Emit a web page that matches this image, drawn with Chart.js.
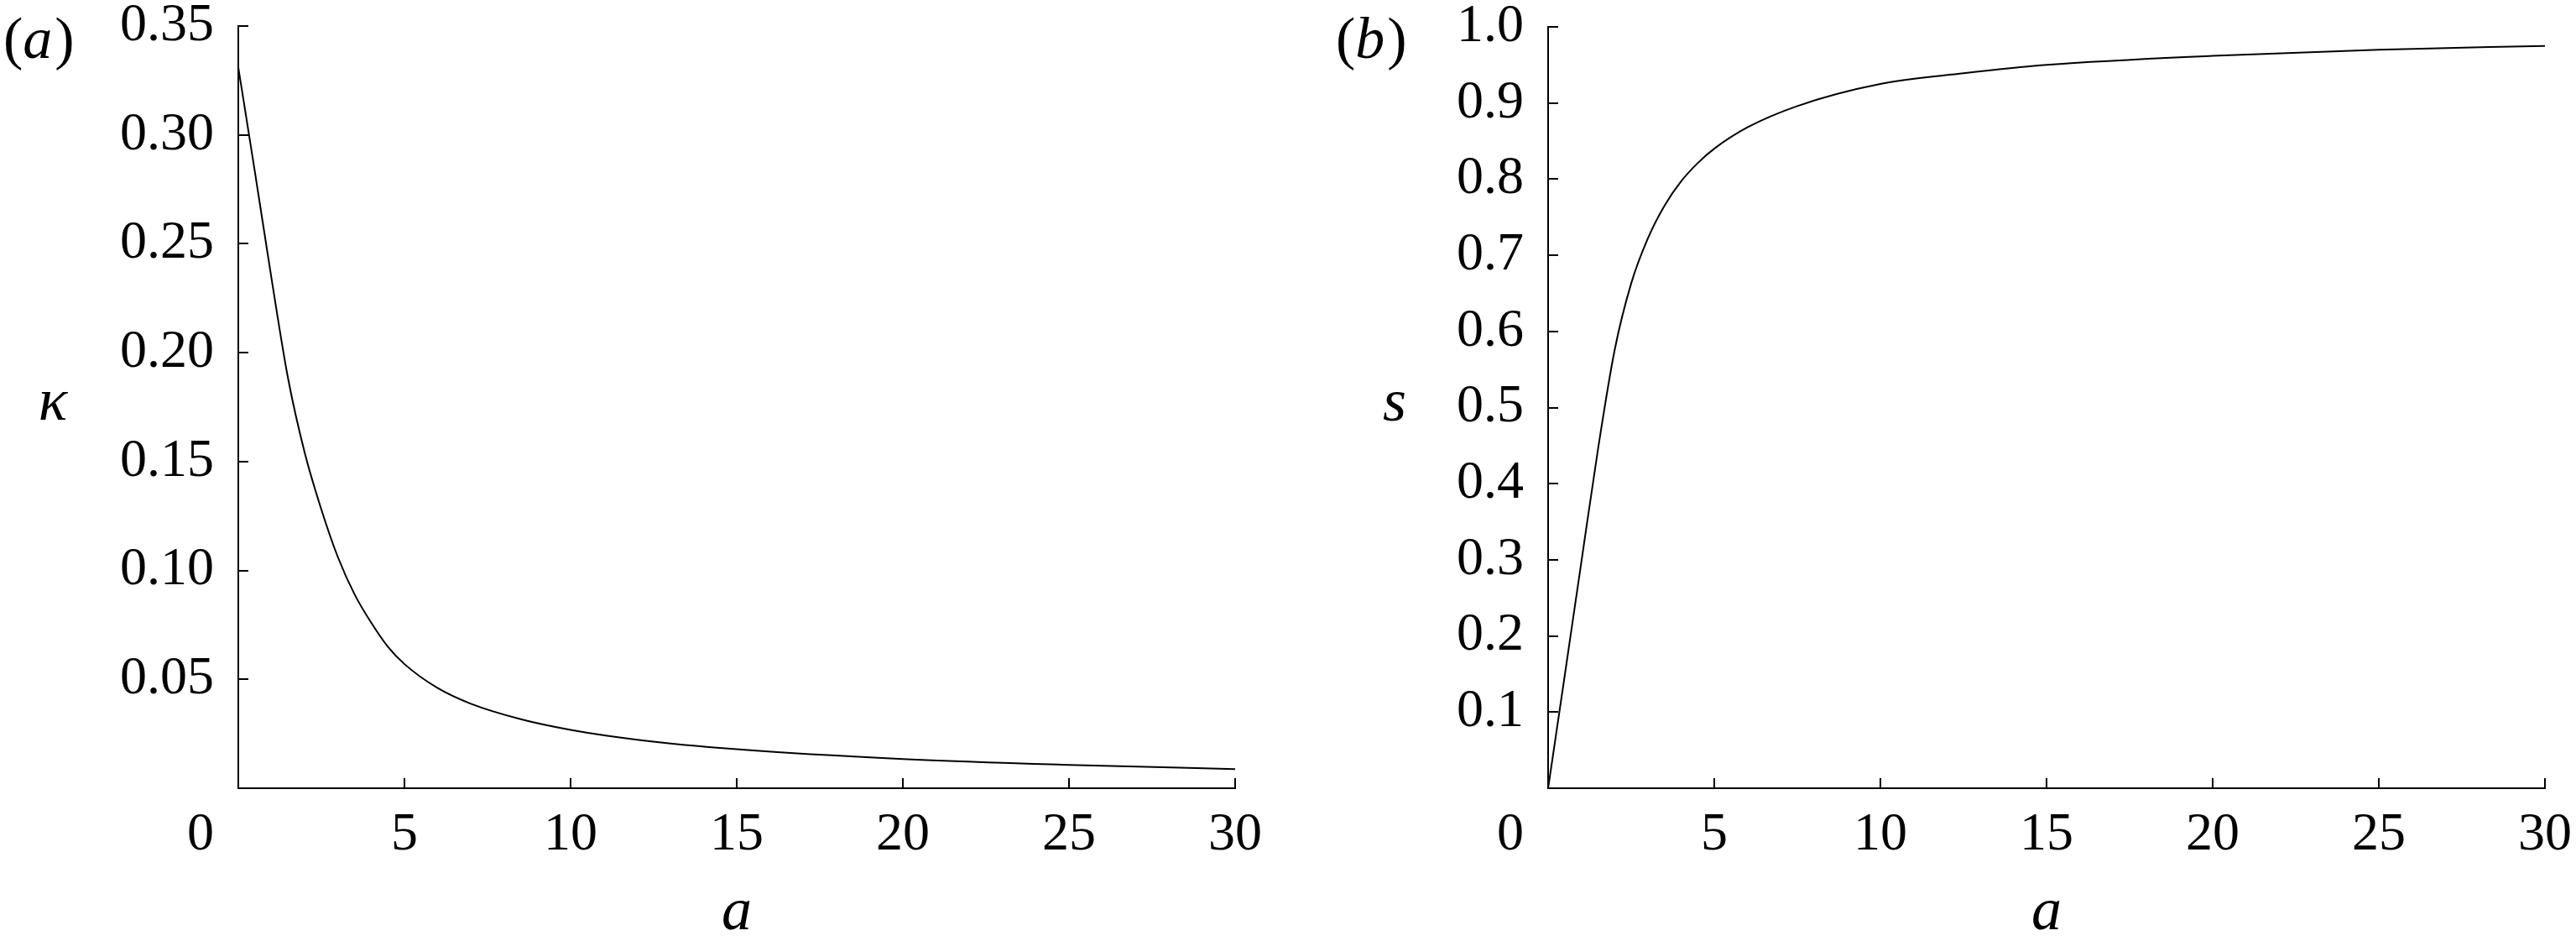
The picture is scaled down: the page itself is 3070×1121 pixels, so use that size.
<!DOCTYPE html>
<html>
<head>
<meta charset="utf-8">
<script src="https://cdn.jsdelivr.net/npm/chart.js@4/dist/chart.umd.min.js"></script>
<style>
  html, body { margin: 0; padding: 0; background: #ffffff; }
  #wrap { position: relative; width: 3070px; height: 1121px; background: #ffffff; }
  canvas { position: absolute; top: 0; }
  #c1 { left: 0; }
  #c2 { left: 1535px; }
</style>
</head>
<body>
<div id="wrap">
  <canvas id="c1" width="1535" height="1121"></canvas>
  <canvas id="c2" width="1535" height="1121"></canvas>
</div>
<script>
// ---- data ----
const aKappa = [0, 0.5, 1.0, 1.5, 2.0, 2.5, 3.0, 3.5, 4.0, 4.5, 5.0, 6.0, 7.0, 8.5, 10, 12, 15, 20, 25, 30];
const kappaValues = [0.331, 0.283, 0.234, 0.188, 0.154, 0.128, 0.106, 0.089, 0.076, 0.065, 0.057, 0.046, 0.0388, 0.0317, 0.0268, 0.0223, 0.0179, 0.0134, 0.0107, 0.0088];

const aS = [0, 0.5, 1.0, 1.5, 2.0, 2.5, 3.0, 3.5, 4.0, 4.5, 5.0, 6.0, 7.5, 10, 12.5, 15, 20, 25, 30];
const sValues = [0, 0.148, 0.297, 0.445, 0.575, 0.663, 0.722, 0.765, 0.797, 0.821, 0.840, 0.868, 0.896, 0.925, 0.939, 0.950, 0.962, 0.970, 0.975];

const xTickValues = [0, 5, 10, 15, 20, 25, 30];
const kappaTicks = [0, 0.05, 0.10, 0.15, 0.20, 0.25, 0.30, 0.35];
const sTicks = [0, 0.1, 0.2, 0.3, 0.4, 0.5, 0.6, 0.7, 0.8, 0.9, 1.0];

const panelLabels = ['a', 'b'];
const yTitles = ['\u03BA', 's'];
const xTitle = 'a';

// ---- styling ----
const FAMILY = "'Liberation Serif', 'Times New Roman', serif";
const TICK_SIZE = 64;
const TITLE_SIZE = 72;
const PANEL_SIZE = 70;
const INK = '#000000';

const decorPlugin = {
  id: 'decor',
  afterDraw(chart, args, opts) {
    const ctx = chart.ctx;
    const xs = chart.scales.x, ys = chart.scales.y;
    const area = chart.chartArea;
    ctx.save();
    ctx.strokeStyle = INK;
    ctx.lineWidth = 2;
    // inward tick marks
    ys.ticks.forEach(t => {
      if (t.value <= 1e-9) return;
      const py = Math.round(ys.getPixelForValue(t.value));
      ctx.beginPath(); ctx.moveTo(area.left, py); ctx.lineTo(area.left + 12, py); ctx.stroke();
    });
    xs.ticks.forEach(t => {
      if (t.value <= 1e-9) return;
      const px = Math.round(xs.getPixelForValue(t.value));
      ctx.beginPath(); ctx.moveTo(px, area.bottom); ctx.lineTo(px, area.bottom - 12); ctx.stroke();
    });
    ctx.fillStyle = INK;
    // shared "0" at the corner
    ctx.font = TICK_SIZE + 'px ' + FAMILY;
    ctx.textAlign = 'center';
    ctx.textBaseline = 'middle';
    ctx.fillText('0', xs.getPixelForValue(0) - 45, xs.top + 18 + TICK_SIZE * 1.2 / 2);
    // y title (upright orientation, italic)
    ctx.font = 'italic ' + TITLE_SIZE + 'px ' + FAMILY;
    ctx.textBaseline = 'alphabetic';
    ctx.fillText(opts.yTitle, area.left - opts.yTitleOffset, (area.top + area.bottom) / 2 + 15);
    // panel label "(x)"
    ctx.textAlign = 'left';
    let x = opts.labelX;
    const base = 69;
    ctx.font = PANEL_SIZE + 'px ' + FAMILY;
    ctx.fillText('(', x, base); x += ctx.measureText('(').width;
    ctx.font = 'italic ' + PANEL_SIZE + 'px ' + FAMILY;
    ctx.fillText(opts.label, x, base); x += ctx.measureText(opts.label).width + 3;
    ctx.font = PANEL_SIZE + 'px ' + FAMILY;
    ctx.fillText(')', x, base);
    ctx.restore();
  }
};

function makeChart(id, xs, ys, yTickList, decimals, yScaleWidth, pad, decor) {
  const pts = xs.map((v, i) => ({ x: v, y: ys[i] }));
  return new Chart(document.getElementById(id), {
    type: 'scatter',
    data: {
      datasets: [{
        data: pts,
        showLine: true,
        borderColor: INK,
        borderWidth: 2,
        pointRadius: 0,
        fill: false,
        cubicInterpolationMode: 'monotone'
      }]
    },
    options: {
      responsive: false,
      animation: false,
      devicePixelRatio: 1,
      layout: { padding: pad },
      plugins: {
        legend: { display: false },
        tooltip: { enabled: false },
        decor: decor
      },
      scales: {
        x: {
          type: 'linear',
          min: xTickValues[0],
          max: xTickValues[xTickValues.length - 1],
          afterBuildTicks(scale) { scale.ticks = xTickValues.map(v => ({ value: v })); },
          grid: { display: false, drawTicks: false },
          border: { display: true, color: INK, width: 2 },
          ticks: {
            color: INK,
            padding: 18,
            maxRotation: 0,
            autoSkip: false,
            font: { family: FAMILY, size: TICK_SIZE },
            callback: v => (v === 0 ? '' : String(v))
          },
          title: {
            display: true,
            text: xTitle,
            color: INK,
            padding: { top: 0, bottom: 0 },
            font: { family: FAMILY, size: TITLE_SIZE, style: 'italic', lineHeight: 0.92 }
          },
          afterFit(scale) { scale.height = 182; scale.paddingLeft = 0; scale.paddingRight = 0; }
        },
        y: {
          type: 'linear',
          min: yTickList[0],
          max: yTickList[yTickList.length - 1],
          afterBuildTicks(scale) { scale.ticks = yTickList.map(v => ({ value: v })); },
          grid: { display: false, drawTicks: false },
          border: { display: true, color: INK, width: 2 },
          ticks: {
            color: INK,
            padding: 29,
            autoSkip: false,
            font: { family: FAMILY, size: TICK_SIZE },
            callback: v => (Math.abs(v) < 1e-9 ? '' : Number(v).toFixed(decimals))
          },
          afterFit(scale) { scale.width = yScaleWidth; scale.paddingTop = 0; scale.paddingBottom = 0; }
        }
      }
    },
    plugins: [decorPlugin]
  });
}

makeChart('c1', aKappa, kappaValues, kappaTicks, 2, 284,
  { top: 31, right: 63, left: 0, bottom: 0 },
  { label: panelLabels[0], labelX: 4, yTitle: yTitles[0], yTitleOffset: 221 });

makeChart('c2', aS, sValues, sTicks, 1, 310,
  { top: 32, right: 37, left: 0, bottom: 0 },
  { label: panelLabels[1], labelX: 57, yTitle: yTitles[1], yTitleOffset: 183 });
</script>
</body>
</html>
